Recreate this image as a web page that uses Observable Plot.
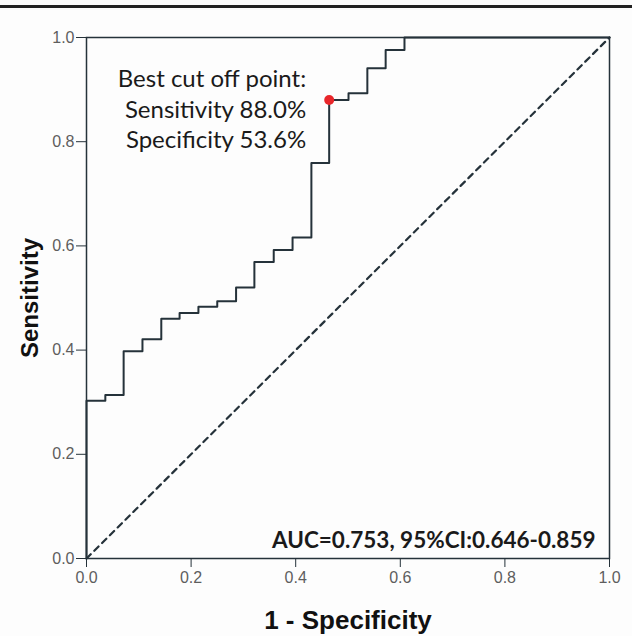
<!DOCTYPE html>
<html><head><meta charset="utf-8">
<script src="https://cdn.jsdelivr.net/npm/d3@7"></script>
<script src="https://cdn.jsdelivr.net/npm/@observablehq/plot@0.6"></script>
<style>
body{margin:0;background:#fdfdfd;}
#wrap{position:relative;width:632px;height:636px;overflow:hidden;background:#fdfdfd;}
#rule{position:absolute;left:0;top:5px;width:632px;height:3px;background:#222;z-index:2;}
#chart{position:absolute;left:0;top:0;}
</style></head><body>
<div id="wrap"><div id="rule"></div><div id="chart"></div></div>
<script>
// ROC curve points (1 - specificity, sensitivity)
const fpr = [0, 0, 0.036, 0.071, 0.107, 0.143, 0.178, 0.214, 0.25, 0.286, 0.321, 0.358, 0.394, 0.43, 0.464, 0.501, 0.537, 0.572, 0.608, 1];
const tpr = [0, 0.303, 0.314, 0.398, 0.421, 0.46, 0.471, 0.483, 0.494, 0.52, 0.569, 0.592, 0.616, 0.759, 0.88, 0.893, 0.941, 0.976, 1, 1];
const diagX = [0, 1];
const diagY = [0, 1];
const bestFpr = [0.464];
const bestTpr = [0.88];
const bestLabel = ["Best cut off point:\nSensitivity 88.0%\nSpecificity 53.6%"];
const aucLabel = ["AUC=0.753, 95%CI:0.646-0.859"];
const tickValues = [0, 0.2, 0.4, 0.6, 0.8, 1.0];
const tickLabels = ["0.0", "0.2", "0.4", "0.6", "0.8", "1.0"];
const xLabel = "1 - Specificity";
const yLabel = "Sensitivity";

const roc = fpr.map((x, i) => ({x, y: tpr[i]}));
const diag = diagX.map((x, i) => ({x, y: diagY[i]}));
const best = bestFpr.map((x, i) => ({x, y: bestTpr[i], label: bestLabel[i]}));
const ticks = tickValues.map((v, i) => ({v, label: tickLabels[i]}));

const ink = "#25323a";
const gray = "#5e5e5e";
const chart = Plot.plot({
  width: 632, height: 636,
  marginLeft: 86, marginRight: 23, marginTop: 37, marginBottom: 78,
  x: {domain: [0, 1]},
  y: {domain: [0, 1]},
  style: {fontFamily: "'Liberation Sans', Arial, sans-serif", fontSize: "16px", background: "transparent", overflow: "visible"},
  marks: [
    Plot.line(diag, {x: "x", y: "y", stroke: ink, strokeWidth: 2.2, strokeDasharray: "6,5"}),
    Plot.line(roc, {x: "x", y: "y", curve: "step-after", stroke: ink, strokeWidth: 2}),
    Plot.frame({stroke: ink, strokeWidth: 1.5}),
    Plot.axisX({ticks: tickValues, tickSize: 9, text: null, stroke: ink, label: null}),
    Plot.axisY({ticks: tickValues, tickSize: 10, text: null, stroke: ink, label: null}),
    Plot.text(ticks, {x: "v", text: "label", frameAnchor: "bottom", lineAnchor: "top", dy: 13, fontSize: 16, fill: gray}),
    Plot.text(ticks, {y: "v", text: "label", frameAnchor: "left", textAnchor: "end", dx: -12, fontSize: 16, fill: gray}),
    Plot.dot(best, {x: "x", y: "y", r: 5, fill: "#e8262a", stroke: null}),
    Plot.text(best, {x: "x", y: "y", text: "label", textAnchor: "end", lineAnchor: "top", lineHeight: 1.28, dx: -23, dy: -35, fontSize: 24, fontFamily: "Lato, sans-serif", fill: "#1a1a1a"}),
    Plot.text(aucLabel, {frameAnchor: "bottom-right", textAnchor: "end", lineAnchor: "bottom", dx: -14, dy: -11, fontSize: 22.5, fontWeight: "bold", fontFamily: "Lato, sans-serif", fill: "#1a1a1a"}),
    Plot.text([yLabel], {frameAnchor: "left", rotate: -90, dx: -56, textAnchor: "middle", fontSize: 24, fontWeight: "bold", fill: "#111"}),
    Plot.text([xLabel], {frameAnchor: "bottom", lineAnchor: "bottom", dy: 70, fontSize: 26, fontWeight: "bold", fill: "#111"})
  ]
});
document.getElementById("chart").appendChild(chart);
</script>
</body></html>
